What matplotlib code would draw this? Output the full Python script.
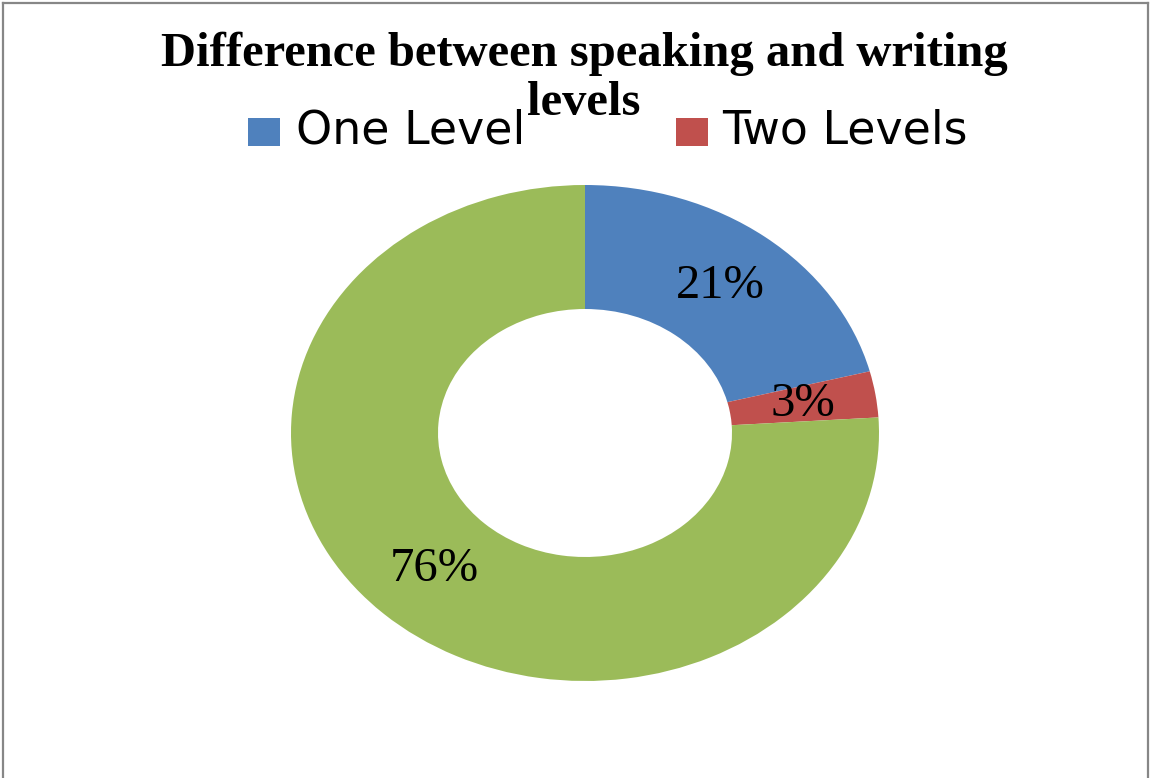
import matplotlib.pyplot as plt
from matplotlib.lines import Line2D
from matplotlib.patches import Rectangle

W, H = 1151, 778
DPI = 100

TITLE = "Difference between speaking and writing\nlevels"
categories = ["One Level", "Two Levels", "Same Level"]
shares = [21, 3, 76]
colors = ["#4F81BD", "#C0504D", "#9BBB59"]
legend_entries = categories[:2]


def fx(px):
    return px / W


def fy(py):
    return 1 - py / H


fig = plt.figure(figsize=(W / DPI, H / DPI), dpi=DPI)

# outer chart frame (bottom edge is cut off in the original)
frame = dict(color="#878787", linewidth=1.6, transform=fig.transFigure)
fig.add_artist(Line2D([fx(3), fx(1148)], [fy(3), fy(3)], **frame))
fig.add_artist(Line2D([fx(3), fx(3)], [fy(3), 0], **frame))
fig.add_artist(Line2D([fx(1148), fx(1148)], [fy(3), 0], **frame))

# donut, stretched horizontally like the source
ax = fig.add_axes([fx(291), fy(681), fx(879) - fx(291), (681 - 185) / H])
wedges, texts, autotexts = ax.pie(
    shares,
    colors=colors,
    startangle=90,
    counterclock=False,
    radius=1,
    autopct="%d%%",
    pctdistance=0.75,
    wedgeprops=dict(width=0.5, edgecolor="none"),
    textprops=dict(family="Liberation Serif", fontsize=35, color="black"),
)
ax.set_aspect("auto")
ax.set_xlim(-1, 1)
ax.set_ylim(-1, 1)
ax.axis("off")

line1, line2 = TITLE.split("\n")
fig.text(
    fx(584), fy(54), line1,
    family="Liberation Serif", fontweight="bold", fontsize=35,
    ha="center", va="center",
)
fig.text(
    fx(584), fy(103), line2,
    family="Liberation Serif", fontweight="bold", fontsize=35,
    ha="center", va="center",
)

# legend
for (sx, tx), name, color in zip([(248, 296), (676, 722)], legend_entries, colors):
    fig.add_artist(Rectangle(
        (fx(sx), fy(146)), fx(32), 28 / H,
        facecolor=color, edgecolor="none", transform=fig.transFigure,
    ))
    fig.text(
        fx(tx), fy(131), name, family="DejaVu Sans", fontsize=33,
        ha="left", va="center",
    )

fig.savefig("out.png", dpi=DPI, facecolor="white")
